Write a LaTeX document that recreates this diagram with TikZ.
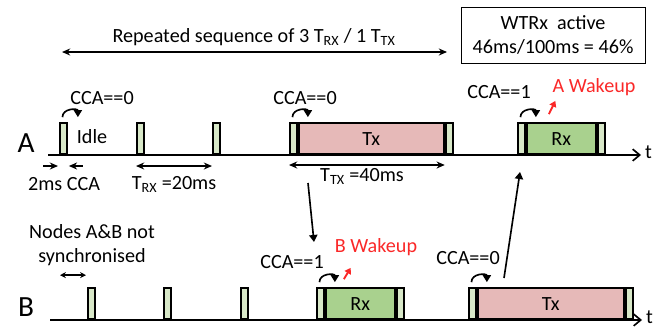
\documentclass[tikz,border=0pt]{standalone}
\usepackage{fontspec}
\setmainfont{Carlito}
\usetikzlibrary{arrows.meta,calc}

\definecolor{stripgreen}{RGB}{216,232,200}
\definecolor{rxgreen}{RGB}{169,209,142}
\definecolor{txpink}{RGB}{230,185,184}
\definecolor{wakered}{RGB}{250,40,40}

\def\px{0.03cm}

\begin{document}
\begin{tikzpicture}[
    x=0.03cm, y=-0.03cm,
    txt/.style={font=\fontsize{17.2}{20.5}\selectfont, inner sep=0pt},
    big/.style={font=\fontsize{25}{28}\selectfont, inner sep=0pt},
    slot/.style={txt, draw, line width=1.6pt, anchor=south west, minimum height=31*\px},
    cca/.style={slot, fill=stripgreen, minimum width=7*\px},
    axis/.style={line width=1.8pt, -{Straight Barb[length=6pt,width=10pt,line width=1.4pt]}},
    span/.style={line width=1.4pt, {Stealth[length=7pt,width=6pt]}-{Stealth[length=7pt,width=6pt]}},
    tick/.style={line width=1.4pt, -{Stealth[length=7pt,width=6pt]}},
    hop/.style={line width=1.4pt, -{Triangle[length=6pt,width=7pt]}},
    redhop/.style={line width=1.6pt, draw=wakered, -{Triangle[length=5pt,width=6pt]}}
]
    \useasboundingbox (0,0) rectangle (654,333);

    % time lines of the two nodes
    \coordinate (aStart) at (48,155);
    \coordinate (aEnd) at (641,155);
    \coordinate (bStart) at (50,320);
    \coordinate (bEnd) at (642,320);
    \draw[axis] (aStart) -- (aEnd);
    \draw[axis] (bStart) -- (bEnd);
    \node[txt, anchor=west] (ta) at ($(aEnd)+(4,-3)$) {t};
    \node[txt, anchor=west] (tb) at ($(bEnd)+(4,-3)$) {t};
    \node[big] (nodeA) at (26,143) {A};
    \node[big] (nodeB) at (26,307) {B};

    % slots of node A
    \node[cca] (a1) at (59,155) {};
    \node[cca] (a2) at (136,155) {};
    \node[cca] (a3) at (212,155) {};
    \node[cca] (a4) at (289,155) {};
    \node[slot, fill=txpink, minimum width=145*\px] (atx) at (a4.south east) {Tx};
    \node[cca] (a5) at (atx.south east) {};
    \node[cca] (a6) at (517,155) {};
    \node[slot, fill=rxgreen, minimum width=69*\px] (arx) at (a6.south east) {Rx};
    \node[cca] (a7) at (arx.south east) {};

    % slots of node B
    \node[cca] (b1) at (87,320) {};
    \node[cca] (b2) at (163,320) {};
    \node[cca] (b3) at (240,320) {};
    \node[cca] (b4) at (316,320) {};
    \node[slot, fill=rxgreen, minimum width=69*\px] (brx) at (b4.south east) {Rx};
    \node[cca] (b5) at (brx.south east) {};
    \node[cca] (b6) at (468,320) {};
    \node[slot, fill=txpink, minimum width=146*\px] (btx) at (b6.south east) {Tx};
    \node[cca] (b7) at (btx.south east) {};

    % top: sequence and duty cycle
    \node[txt] (seq) at (254,37) {Repeated sequence of 3 T\textsubscript{RX} / 1 T\textsubscript{TX}};
    \coordinate (seqL) at (62,52);
    \coordinate (seqR) at (447,52);
    \draw[span] (seqL) -- (seqR);
    \node[txt, draw, line width=0.8pt, align=center, minimum width=184*\px,
          minimum height=56*\px] (duty) at (553,35) {WTRx\ \ active\\46ms/100ms = 46\%};

    % CCA checks and wakeups
    \node[txt] (idle) at (92,137) {Idle};
    \node[txt] (ccaA1) at (102,98) {CCA==0};
    \node[txt] (ccaA2) at (305,98) {CCA==0};
    \node[txt] (ccaA3) at (499,92) {CCA==1};
    \node[txt, text=wakered] (wakeA) at (594,87) {A Wakeup};
    \node[txt] (ccaB1) at (292,262) {CCA==1};
    \node[txt, text=wakered] (wakeB) at (376,247) {B Wakeup};
    \node[txt] (ccaB2) at (468,258) {CCA==0};
    \draw[hop] ($(a1.north)+(-1,-5)$) to[out=90, in=90, looseness=1.5] ($(a1.north east)+(10,-5)$);
    \draw[hop] ($(a4.north)+(-1,-5)$) to[out=90, in=90, looseness=1.5] ($(a4.north east)+(10,-5)$);
    \draw[hop] ($(a6.north)+(-1,-5)$) to[out=90, in=90, looseness=1.5] ($(a6.north east)+(10,-5)$);
    \draw[hop] ($(b4.north)+(-1,-5)$) to[out=90, in=90, looseness=1.5] ($(b4.north east)+(10,-5)$);
    \draw[hop] ($(b6.north)+(-1,-5)$) to[out=90, in=90, looseness=1.5] ($(b6.north east)+(10,-5)$);
    \draw[redhop] ($(arx.north west)+(23,-8)$) -- ($(wakeA.south west)+(3,5)$);
    \draw[redhop] ($(brx.north west)+(19,-8)$) -- ($(wakeB.south west)+(16,12)$);

    % durations below node A
    \draw[tick] ($(a1.south west)+(-16,11)$) -- ($(a1.south west)+(-1,11)$);
    \draw[tick] ($(a1.south east)+(15,11)$) -- ($(a1.south east)+(1,11)$);
    \node[txt] (cca) at (64,184) {2ms CCA};
    \draw[span] ($(a2.south west)+(0,11)$) -- ($(a3.south west)+(0,11)$);
    \node[txt] (trx) at (174,184) {T\textsubscript{RX} =20ms};
    \draw[span] ($(a4.south west)+(0,10)$) -- ($(a5.south west)+(0,10)$);
    \node[txt] (ttx) at (362,176) {T\textsubscript{TX} =40ms};

    % packets between A and B
    \coordinate (txA) at (308,183);
    \coordinate (rxB) at (314,242);
    \draw[hop] (txA) -- (rxB);
    \coordinate (txB) at (504,278);
    \coordinate (rxA) at (520,172);
    \draw[hop] (txB) -- (rxA);

    % offset between the nodes
    \node[txt, align=center] (async) at (92,245) {Nodes A\&B not\\synchronised};
    \draw[span, {Stealth[length=5pt,width=5pt]}-{Stealth[length=5pt,width=5pt]}] ($(b1.north west)+(-27,-12)$) -- ($(b1.north west)+(-1,-12)$);

\end{tikzpicture}
\end{document}
